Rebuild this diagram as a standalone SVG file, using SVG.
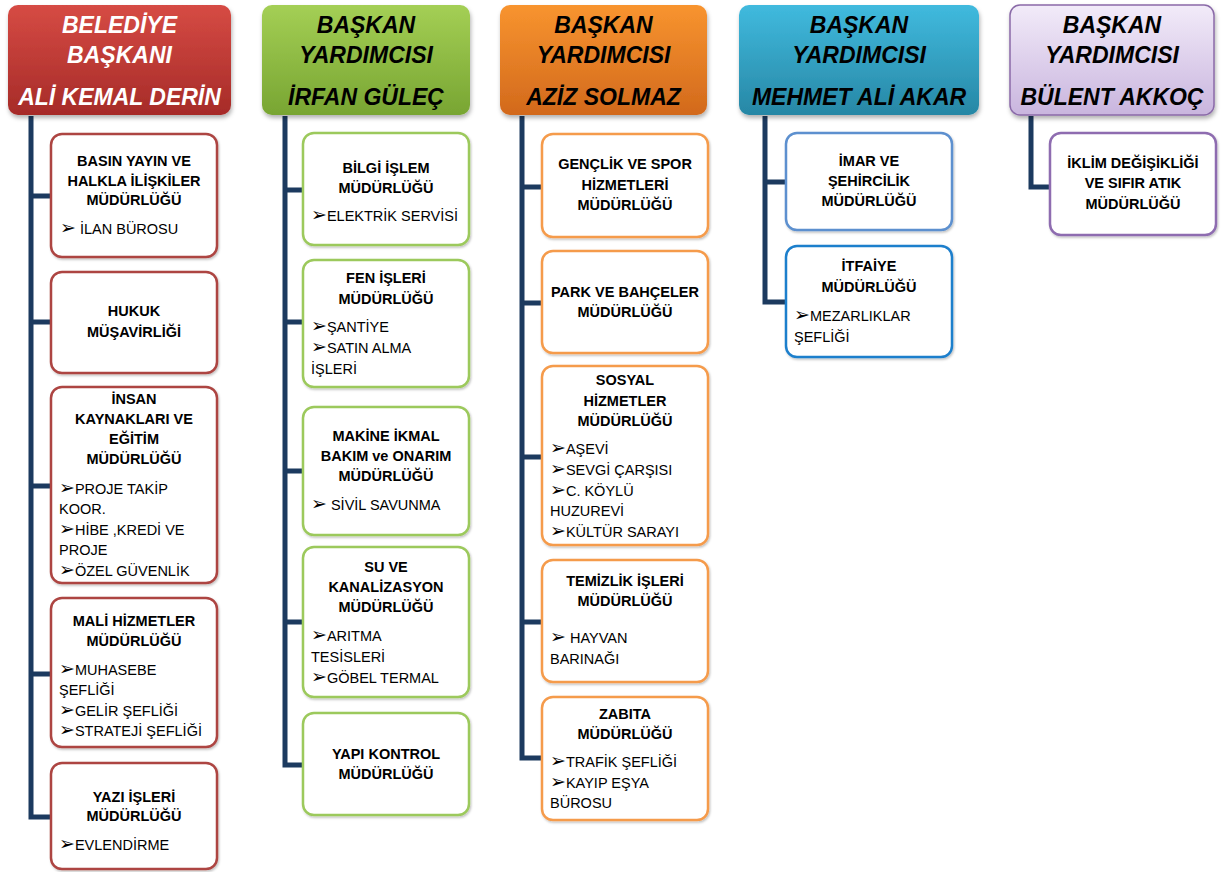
<svg xmlns="http://www.w3.org/2000/svg" width="1221" height="872" viewBox="0 0 1221 872">
<defs>
<linearGradient id="gRed" x1="0" y1="0" x2="0" y2="1"><stop offset="0" stop-color="#d64b44"/><stop offset="1" stop-color="#a62b28"/></linearGradient>
<linearGradient id="gGreen" x1="0" y1="0" x2="0" y2="1"><stop offset="0" stop-color="#a4cf55"/><stop offset="1" stop-color="#78a532"/></linearGradient>
<linearGradient id="gOrange" x1="0" y1="0" x2="0" y2="1"><stop offset="0" stop-color="#f8942f"/><stop offset="1" stop-color="#d2691c"/></linearGradient>
<linearGradient id="gBlue" x1="0" y1="0" x2="0" y2="1"><stop offset="0" stop-color="#40bade"/><stop offset="1" stop-color="#2787a5"/></linearGradient>
<linearGradient id="gPurple" x1="0" y1="0" x2="0" y2="1"><stop offset="0" stop-color="#f2ebf9"/><stop offset="1" stop-color="#c9b5de"/></linearGradient>
<filter id="sh" x="-10%" y="-10%" width="125%" height="130%"><feDropShadow dx="1" dy="3" stdDeviation="2" flood-color="#000" flood-opacity="0.3"/></filter>
<filter id="sh2" x="-10%" y="-10%" width="125%" height="130%"><feDropShadow dx="1" dy="1.5" stdDeviation="1" flood-color="#000" flood-opacity="0.25"/></filter>
</defs>
<style>
.hdr{font-family:"Liberation Sans","DejaVu Sans",sans-serif;font-weight:bold;font-style:italic;font-size:23px;text-anchor:middle;fill:#000}
.hw{fill:#fff}
.box{fill:#fff;stroke-width:2.5;filter:url(#sh2)}
.red{stroke:#ad4542}
.grn{stroke:#9cc95c}
.org{stroke:#f59b4c}
.blu1{stroke:#5d90cf}
.blu2{stroke:#1f7fcc}
.pur{stroke:#8e6cb0}
.t{font-family:"Liberation Sans","DejaVu Sans",sans-serif;font-weight:bold;font-size:14.5px;text-anchor:middle;fill:#000}
.i{font-family:"Liberation Sans","DejaVu Sans",sans-serif;font-size:14.5px;fill:#000}
.a{font-family:"DejaVu Sans",sans-serif;font-size:19px}
.con{fill:none;stroke:#1c3a5f;stroke-width:5}
</style>

<g id="connectors">
<path class="con" d="M31 116 V817 H51 M31 196 H51 M31 322 H51 M31 486 H51 M31 674 H51"/>
<path class="con" d="M285 116 V765 H303 M285 190 H303 M285 322 H303 M285 471 H303 M285 622 H303"/>
<path class="con" d="M522 116 V758 H542 M522 187 H542 M522 303 H542 M522 457 H542 M522 622 H542"/>
<path class="con" d="M765 116 V302 H786 M765 182 H786"/>
<path class="con" d="M1031 116 V187 H1050"/>
</g>

<g id="h1">
<rect x="8" y="5" width="223" height="110" rx="10" fill="url(#gRed)" filter="url(#sh)"/>
<text class="hdr hw" x="119.5" y="33">BELEDİYE</text>
<text class="hdr hw" x="119.5" y="63">BAŞKANI</text>
<text class="hdr hw" x="119.5" y="105">ALİ KEMAL DERİN</text>
</g>
<g id="h2">
<rect x="262" y="5" width="208" height="110" rx="10" fill="url(#gGreen)" filter="url(#sh)"/>
<text class="hdr" x="366" y="33">BAŞKAN</text>
<text class="hdr" x="366" y="63">YARDIMCISI</text>
<text class="hdr" x="366" y="105">İRFAN GÜLEÇ</text>
</g>
<g id="h3">
<rect x="500" y="5" width="207" height="110" rx="10" fill="url(#gOrange)" filter="url(#sh)"/>
<text class="hdr" x="603.5" y="33">BAŞKAN</text>
<text class="hdr" x="603.5" y="63">YARDIMCISI</text>
<text class="hdr" x="603.5" y="105">AZİZ SOLMAZ</text>
</g>
<g id="h4">
<rect x="739" y="5" width="240" height="110" rx="10" fill="url(#gBlue)" filter="url(#sh)"/>
<text class="hdr" x="859" y="33">BAŞKAN</text>
<text class="hdr" x="859" y="63">YARDIMCISI</text>
<text class="hdr" x="859" y="105" font-size="22">MEHMET ALİ AKAR</text>
</g>
<g id="h5">
<rect x="1010" y="5" width="204" height="110" rx="10" fill="url(#gPurple)" stroke="#8a6aa8" stroke-width="1.5" filter="url(#sh)"/>
<text class="hdr" x="1112" y="33">BAŞKAN</text>
<text class="hdr" x="1112" y="63">YARDIMCISI</text>
<text class="hdr" x="1112" y="105">BÜLENT AKKOÇ</text>
</g>

<!-- Column 1 -->
<g id="c1b1">
<rect class="box red" x="51" y="134" width="166" height="123" rx="11"/>
<text class="t" x="134" y="166">BASIN YAYIN VE</text>
<text class="t" x="134" y="186">HALKLA İLİŞKİLER</text>
<text class="t" x="134" y="205">MÜDÜRLÜĞÜ</text>
<text class="i" x="60" y="234"><tspan class="a">➢</tspan> İLAN BÜROSU</text>
</g>
<g id="c1b2">
<rect class="box red" x="51" y="272" width="166" height="101" rx="11"/>
<text class="t" x="134" y="316">HUKUK</text>
<text class="t" x="134" y="337">MÜŞAVİRLİĞİ</text>
</g>
<g id="c1b3">
<rect class="box red" x="51" y="387" width="166" height="196" rx="11"/>
<text class="t" x="134" y="404">İNSAN</text>
<text class="t" x="134" y="424">KAYNAKLARI VE</text>
<text class="t" x="134" y="444">EĞİTİM</text>
<text class="t" x="134" y="464">MÜDÜRLÜĞÜ</text>
<text class="i" x="59" y="494"><tspan class="a">➢</tspan>PROJE TAKİP</text>
<text class="i" x="59" y="514">KOOR.</text>
<text class="i" x="59" y="535"><tspan class="a">➢</tspan>HİBE ,KREDİ VE</text>
<text class="i" x="59" y="555">PROJE</text>
<text class="i" x="59" y="576"><tspan class="a">➢</tspan>ÖZEL GÜVENLİK</text>
</g>
<g id="c1b4">
<rect class="box red" x="51" y="598" width="166" height="149" rx="11"/>
<text class="t" x="134" y="626">MALİ HİZMETLER</text>
<text class="t" x="134" y="646">MÜDÜRLÜĞÜ</text>
<text class="i" x="59" y="675"><tspan class="a">➢</tspan>MUHASEBE</text>
<text class="i" x="59" y="695">ŞEFLİĞİ</text>
<text class="i" x="59" y="716"><tspan class="a">➢</tspan>GELİR ŞEFLİĞİ</text>
<text class="i" x="59" y="736"><tspan class="a">➢</tspan>STRATEJİ ŞEFLİĞİ</text>
</g>
<g id="c1b5">
<rect class="box red" x="51" y="763" width="166" height="106" rx="11"/>
<text class="t" x="134" y="802">YAZI İŞLERİ</text>
<text class="t" x="134" y="821">MÜDÜRLÜĞÜ</text>
<text class="i" x="59" y="850"><tspan class="a">➢</tspan>EVLENDİRME</text>
</g>

<!-- Column 2 -->
<g id="c2b1">
<rect class="box grn" x="303" y="133" width="166" height="112" rx="11"/>
<text class="t" x="386" y="173">BİLGİ İŞLEM</text>
<text class="t" x="386" y="193">MÜDÜRLÜĞÜ</text>
<text class="i" x="311" y="221"><tspan class="a">➢</tspan>ELEKTRİK SERVİSİ</text>
</g>
<g id="c2b2">
<rect class="box grn" x="303" y="260" width="166" height="127" rx="11"/>
<text class="t" x="386" y="283">FEN İŞLERİ</text>
<text class="t" x="386" y="304">MÜDÜRLÜĞÜ</text>
<text class="i" x="311" y="332"><tspan class="a">➢</tspan>ŞANTİYE</text>
<text class="i" x="311" y="353"><tspan class="a">➢</tspan>SATIN ALMA</text>
<text class="i" x="311" y="374">İŞLERİ</text>
</g>
<g id="c2b3">
<rect class="box grn" x="303" y="407" width="166" height="128" rx="11"/>
<text class="t" x="386" y="441">MAKİNE İKMAL</text>
<text class="t" x="386" y="461">BAKIM ve ONARIM</text>
<text class="t" x="386" y="481">MÜDÜRLÜĞÜ</text>
<text class="i" x="311" y="510"><tspan class="a">➢</tspan> SİVİL SAVUNMA</text>
</g>
<g id="c2b4">
<rect class="box grn" x="303" y="547" width="166" height="150" rx="11"/>
<text class="t" x="386" y="572">SU VE</text>
<text class="t" x="386" y="592">KANALİZASYON</text>
<text class="t" x="386" y="612">MÜDÜRLÜĞÜ</text>
<text class="i" x="311" y="641"><tspan class="a">➢</tspan>ARITMA</text>
<text class="i" x="311" y="662">TESİSLERİ</text>
<text class="i" x="311" y="683"><tspan class="a">➢</tspan>GÖBEL TERMAL</text>
</g>
<g id="c2b5">
<rect class="box grn" x="303" y="713" width="166" height="102" rx="11"/>
<text class="t" x="386" y="759">YAPI KONTROL</text>
<text class="t" x="386" y="779">MÜDÜRLÜĞÜ</text>
</g>

<!-- Column 3 -->
<g id="c3b1">
<rect class="box org" x="542" y="134" width="166" height="103" rx="11"/>
<text class="t" x="625" y="169">GENÇLİK VE SPOR</text>
<text class="t" x="625" y="190">HİZMETLERİ</text>
<text class="t" x="625" y="210">MÜDÜRLÜĞÜ</text>
</g>
<g id="c3b2">
<rect class="box org" x="542" y="251" width="166" height="102" rx="11"/>
<text class="t" x="625" y="297">PARK VE BAHÇELER</text>
<text class="t" x="625" y="317">MÜDÜRLÜĞÜ</text>
</g>
<g id="c3b3">
<rect class="box org" x="542" y="366" width="166" height="179" rx="11"/>
<text class="t" x="625" y="385">SOSYAL</text>
<text class="t" x="625" y="406">HİZMETLER</text>
<text class="t" x="625" y="426">MÜDÜRLÜĞÜ</text>
<text class="i" x="550" y="454"><tspan class="a">➢</tspan>AŞEVİ</text>
<text class="i" x="550" y="475"><tspan class="a">➢</tspan>SEVGİ ÇARŞISI</text>
<text class="i" x="550" y="496"><tspan class="a">➢</tspan>C. KÖYLÜ</text>
<text class="i" x="550" y="516">HUZUREVİ</text>
<text class="i" x="550" y="537"><tspan class="a">➢</tspan>KÜLTÜR SARAYI</text>
</g>
<g id="c3b4">
<rect class="box org" x="542" y="560" width="166" height="122" rx="11"/>
<text class="t" x="625" y="586">TEMİZLİK İŞLERİ</text>
<text class="t" x="625" y="606">MÜDÜRLÜĞÜ</text>
<text class="i" x="550" y="643"><tspan class="a" font-weight="bold" font-size="21">➢</tspan> HAYVAN</text>
<text class="i" x="550" y="664">BARINAĞI</text>
</g>
<g id="c3b5">
<rect class="box org" x="542" y="697" width="166" height="123" rx="11"/>
<text class="t" x="625" y="719">ZABITA</text>
<text class="t" x="625" y="739">MÜDÜRLÜĞÜ</text>
<text class="i" x="550" y="767"><tspan class="a">➢</tspan>TRAFİK ŞEFLİĞİ</text>
<text class="i" x="550" y="788"><tspan class="a">➢</tspan>KAYIP EŞYA</text>
<text class="i" x="550" y="808">BÜROSU</text>
</g>

<!-- Column 4 -->
<g id="c4b1">
<rect class="box blu1" x="786" y="133" width="166" height="97" rx="11"/>
<text class="t" x="869" y="166">İMAR VE</text>
<text class="t" x="869" y="186">ŞEHİRCİLİK</text>
<text class="t" x="869" y="206">MÜDÜRLÜĞÜ</text>
</g>
<g id="c4b2">
<rect class="box blu2" x="786" y="246" width="166" height="111" rx="11"/>
<text class="t" x="869" y="271">İTFAİYE</text>
<text class="t" x="869" y="292">MÜDÜRLÜĞÜ</text>
<text class="i" x="794" y="321"><tspan class="a">➢</tspan>MEZARLIKLAR</text>
<text class="i" x="794" y="342">ŞEFLİĞİ</text>
</g>

<!-- Column 5 -->
<g id="c5b1">
<rect class="box pur" x="1050" y="133" width="166" height="102" rx="11"/>
<text class="t" x="1133" y="168">İKLİM DEĞİŞİKLİĞİ</text>
<text class="t" x="1133" y="188">VE SIFIR ATIK</text>
<text class="t" x="1133" y="209">MÜDÜRLÜĞÜ</text>
</g>
</svg>
